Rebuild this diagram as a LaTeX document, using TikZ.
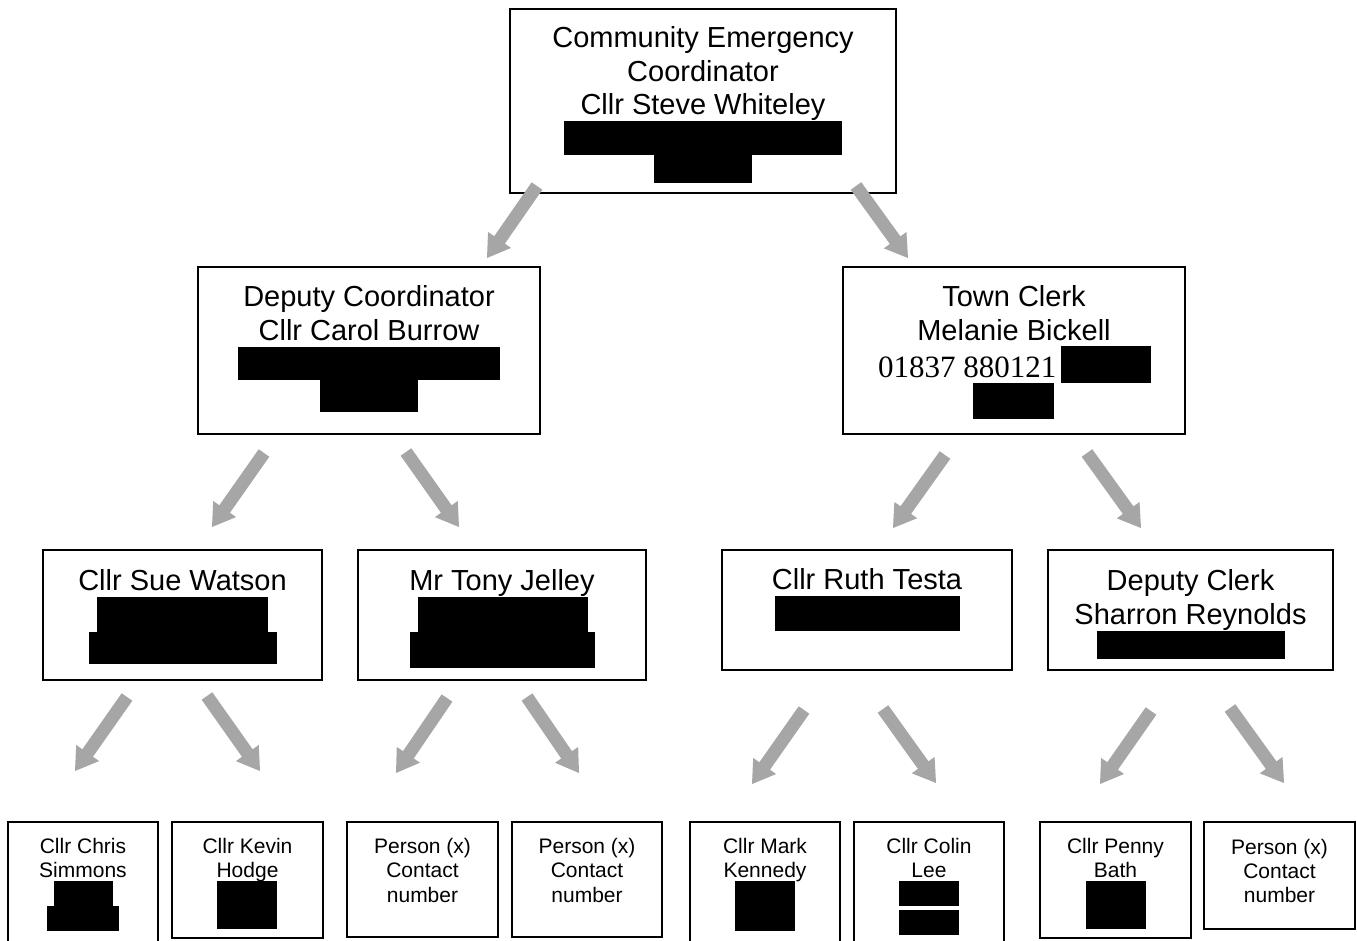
\documentclass[tikz,border=0pt]{standalone}
\usepackage{fontspec}
\setmainfont{Liberation Sans}
\newfontfamily\timesfont{Liberation Serif}
\usetikzlibrary{calc,fit}
\definecolor{arrowgray}{RGB}{166,166,166}
\tikzset{
  box/.style={draw=black, line width=1.6pt, fill=white, inner sep=0pt},
  big/.style={font=\fontsize{29}{33}\selectfont, inner sep=0pt, anchor=base},
  small/.style={font=\fontsize{21}{24}\selectfont, inner sep=0pt, anchor=base},
  phone/.style={font=\timesfont\fontsize{31}{35}\selectfont, inner sep=0pt, anchor=base west},
  redact/.style={fill=black},
  grayarrow/.style={fill=arrowgray},
}
% name, tail, tip
\newcommand\garrow[3]{%
  \coordinate (#1-t) at (#2);
  \coordinate (#1-p) at (#3);
  \coordinate (#1-n) at ($(#1-p)!22pt!(#1-t)$);
  \fill[grayarrow] ($(#1-t)!6.5pt!90:(#1-p)$) -- ($(#1-n)!6.5pt!90:(#1-p)$)
    -- ($(#1-n)!14pt!90:(#1-p)$) -- (#1-p) -- ($(#1-n)!14pt!-90:(#1-p)$)
    -- ($(#1-n)!6.5pt!-90:(#1-p)$) -- ($(#1-t)!6.5pt!-90:(#1-p)$) -- cycle;
}
\begin{document}
\begin{tikzpicture}[x=1pt,y=-1pt]
\useasboundingbox (0,0) rectangle (1357,940);
\clip (0,0) rectangle (1357,940);
\fill[white] (0,0) rectangle (1357,940);

% boxes
\node[box, fit={(510,9) (896,193)}] (top) {};
\node[box, fit={(198,267) (540,434)}] (dep) {};
\node[box, fit={(843,267) (1185,434)}] (clerk) {};
\node[box, fit={(43,550) (322,680)}] (sue) {};
\node[box, fit={(358,550) (646,680)}] (tony) {};
\node[box, fit={(722,550) (1012,670)}] (ruth) {};
\node[box, fit={(1048,550) (1333,670)}] (dclerk) {};
\node[box, fit={(8,822) (158,950)}] (b1) {};
\node[box, fit={(172,822) (323,938)}] (b2) {};
\node[box, fit={(347,822) (498,937)}] (b3) {};
\node[box, fit={(512,822) (662,937)}] (b4) {};
\node[box, fit={(690,822) (840,950)}] (b5) {};
\node[box, fit={(854,822) (1004,950)}] (b6) {};
\node[box, fit={(1040,822) (1191,938)}] (b7) {};
\node[box, fit={(1204,822) (1355,929)}] (b8) {};

% texts
\node[big] (top-1) at (703,47) {Community Emergency};
\node[big] (top-2) at (703,81) {Coordinator};
\node[big] (top-3) at (703,114) {Cllr Steve Whiteley};
\node[big] (dep-1) at (369,306) {Deputy Coordinator};
\node[big] (dep-2) at (369,340) {Cllr Carol Burrow};
\node[big] (clerk-1) at (1014,306) {Town Clerk};
\node[big] (clerk-2) at (1014,340) {Melanie Bickell};
\node[phone] (clerk-3) at (878,377) {01837 880121};
\node[big] (sue-1) at (182.5,590) {Cllr Sue Watson};
\node[big] (tony-1) at (502,590) {Mr Tony Jelley};
\node[big] (ruth-1) at (867,589) {Cllr Ruth Testa};
\node[big] (dclerk-1) at (1190.5,590) {Deputy Clerk};
\node[big] (dclerk-2) at (1190.5,624) {Sharron Reynolds};

\node[small] (b1-1) at (83,853) {Cllr Chris};
\node[small] (b1-2) at (83,877) {Simmons};
\node[small] (b2-1) at (247.5,853) {Cllr Kevin};
\node[small] (b2-2) at (247.5,877) {Hodge};
\node[small] (b3-1) at (422.5,853) {Person (x)};
\node[small] (b3-2) at (422.5,877) {Contact};
\node[small] (b3-3) at (422.5,902) {number};
\node[small] (b4-1) at (587,853) {Person (x)};
\node[small] (b4-2) at (587,877) {Contact};
\node[small] (b4-3) at (587,902) {number};
\node[small] (b5-1) at (765,853) {Cllr Mark};
\node[small] (b5-2) at (765,877) {Kennedy};
\node[small] (b6-1) at (929,853) {Cllr Colin};
\node[small] (b6-2) at (929,877) {Lee};
\node[small] (b7-1) at (1115.5,853) {Cllr Penny};
\node[small] (b7-2) at (1115.5,877) {Bath};
\node[small] (b8-1) at (1279.5,854) {Person (x)};
\node[small] (b8-2) at (1279.5,878) {Contact};
\node[small] (b8-3) at (1279.5,902) {number};

% redactions
\fill[redact] (564,121) rectangle (842,155);
\fill[redact] (654,155) rectangle (752,183);
\fill[redact] (238,347) rectangle (500,380);
\fill[redact] (320,380) rectangle (418,412);
\fill[redact] (1061,346) rectangle (1151,383);
\fill[redact] (973,383) rectangle (1054,419);
\fill[redact] (97,597) rectangle (268,632);
\fill[redact] (89,632) rectangle (277,664);
\fill[redact] (418,597) rectangle (588,632);
\fill[redact] (410,632) rectangle (595,668);
\fill[redact] (775,596) rectangle (960,631);
\fill[redact] (1097,631) rectangle (1285,659);
\fill[redact] (54,881) rectangle (113,906);
\fill[redact] (47,906) rectangle (119,931);
\fill[redact] (217,881) rectangle (277,929);
\fill[redact] (735,881) rectangle (795,931);
\fill[redact] (899,881) rectangle (959,906);
\fill[redact] (899,910) rectangle (959,935);
\fill[redact] (1086,881) rectangle (1146,929);

% arrows
\garrow{a1}{537,186}{487,258}
\garrow{a2}{856,186}{908,258}
\garrow{a3}{264,453}{212,527}
\garrow{a4}{406,452}{459,527}
\garrow{a5}{945,455}{893,528}
\garrow{a6}{1087,453}{1141,528}
\garrow{a7}{127,697}{75,771}
\garrow{a8}{207,696}{260,771}
\garrow{a9}{447,698}{396,773}
\garrow{a10}{527,697}{579,773}
\garrow{a11}{804,710}{752,784}
\garrow{a12}{883,709}{936,783}
\garrow{a13}{1151,711}{1100,784}
\garrow{a14}{1230,708}{1284,783}
\end{tikzpicture}
\end{document}
